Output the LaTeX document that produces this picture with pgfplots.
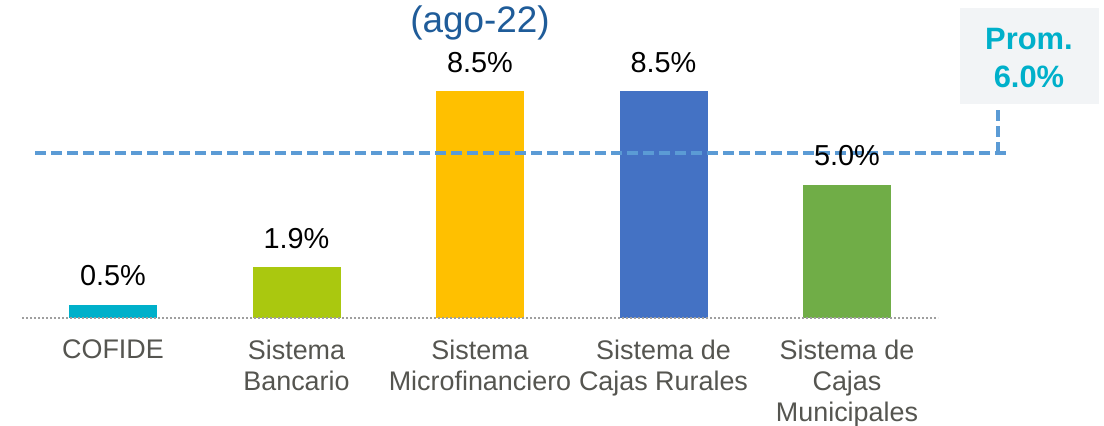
\documentclass[border=0pt]{standalone}
\usepackage{pgfplots}
\pgfplotsset{compat=1.18}
\usepackage{fontspec}
\setmainfont{Liberation Sans}
\definecolor{cofide}{HTML}{00B0CA}
\definecolor{banca}{HTML}{AAC80F}
\definecolor{micro}{HTML}{FFC000}
\definecolor{rural}{HTML}{4472C4}
\definecolor{munic}{HTML}{70AD47}
\definecolor{promline}{HTML}{5B9BD5}
\definecolor{labelcol}{HTML}{555550}
\definecolor{titlecol}{HTML}{1F5C99}
\definecolor{boxfill}{HTML}{F2F4F6}

\begin{document}
\begin{tikzpicture}[x=1bp,y=1bp]
\path[use as bounding box, fill=white] (0,0) rectangle (1104,425);
\begin{axis}[
  at={(22bp,107bp)}, anchor=south west,
  scale only axis,
  width=916bp, height=267bp,
  xmin=-0.496, xmax=4.496,
  ymin=0, ymax=10,
  clip=false,
  axis line style={draw=none},
  ytick=\empty,
  xtick={0,1,2,3,4},
  xtick style={draw=none},
  xticklabels={COFIDE,{Sistema\\Bancario},{Sistema\\Microfinanciero},{Sistema de\\Cajas Rurales},{Sistema de\\Cajas\\Municipales}},
  xticklabel style={align=center, text=labelcol, font=\fontsize{27}{31}\selectfont, anchor=north, yshift=-14bp},
  ybar, bar width=88bp, bar shift=0pt,
  /pgf/number format/assume math mode=true,
  nodes near coords={\pgfmathprintnumber[fixed,precision=1,fixed zerofill]{\pgfplotspointmeta}\%},
  every node near coord/.append style={font=\fontsize{29}{32}\selectfont, text=black, anchor=base, yshift=19bp},
]
\addplot[fill=cofide, draw=none] coordinates {(0,0.5)};
\addplot[fill=banca, draw=none] coordinates {(1,1.9)};
\addplot[fill=micro, draw=none] coordinates {(2,8.5)};
\addplot[fill=rural, draw=none] coordinates {(3,8.5)};
\addplot[fill=munic, draw=none] coordinates {(4,5.0)};
% dotted base line
\draw[gray!75, line width=2bp, dash pattern=on 2bp off 2bp] (axis cs:-0.496,0) -- (axis cs:4.496,0);
% average line
\draw[promline, line width=3.8bp, dash pattern=on 11bp off 5bp]
  (axis cs:-0.425,6.18) -- (axis cs:4.872,6.18);
\draw[promline, line width=3.8bp, dash pattern=on 11bp off 5bp]
  (axis cs:4.823,6.18) -- (axis cs:4.823,7.9);
\end{axis}
\fill[boxfill] (960,321) rectangle (1099,417);
\node[anchor=base, text=cofide, font=\fontsize{31}{34}\selectfont\bfseries] at (1029,376) {Prom.};
\node[anchor=base, text=cofide, font=\fontsize{31}{34}\selectfont\bfseries] at (1029,338) {6.0\%};
\node[anchor=base, text=titlecol, font=\fontsize{37}{40}\selectfont] at (480,392) {(ago-22)};
\end{tikzpicture}
\end{document}
